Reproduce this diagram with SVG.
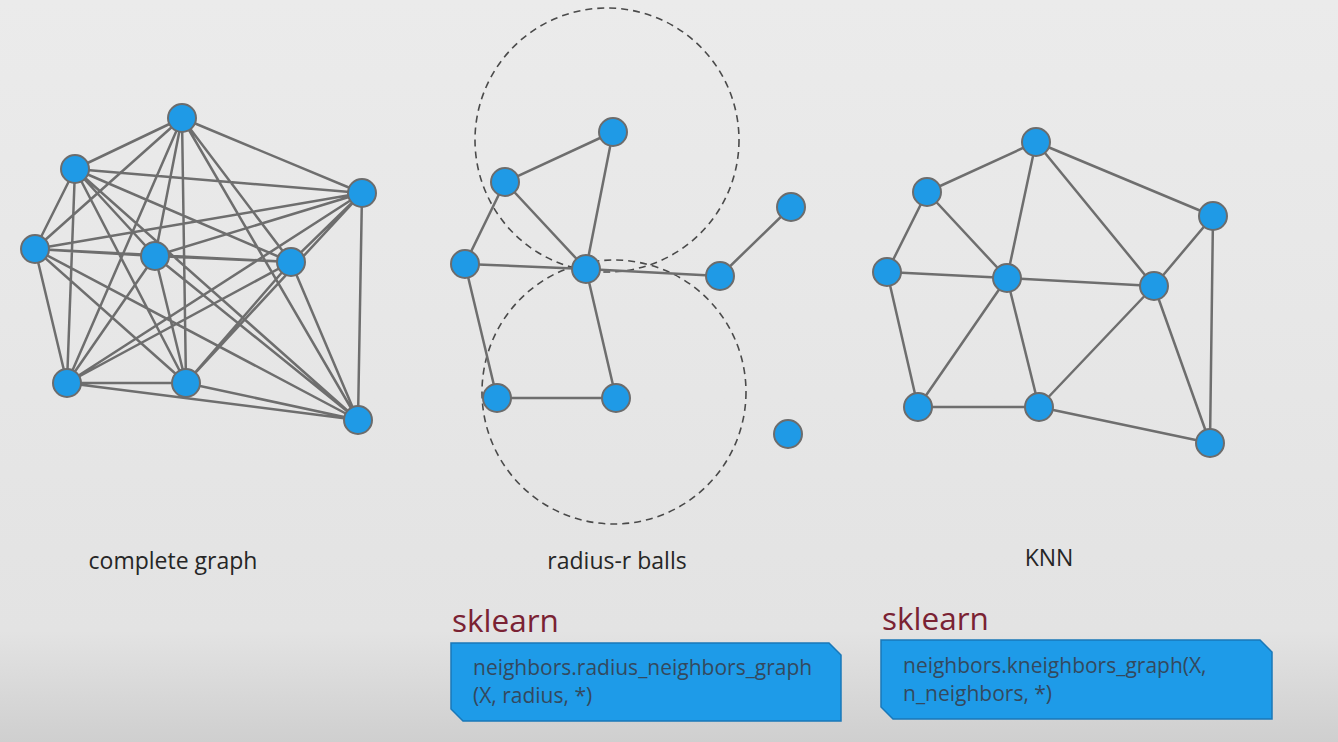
<svg xmlns="http://www.w3.org/2000/svg" width="1338" height="742" viewBox="0 0 1338 742">
<defs>
<linearGradient id="bg" x1="0" y1="0" x2="0" y2="1">
<stop offset="0" stop-color="#ebebeb"/>
<stop offset="0.85" stop-color="#e3e3e3"/>
<stop offset="1" stop-color="#cfcfcf"/>
</linearGradient>
<style>
.e{stroke:#6e6e6e;stroke-width:2.5;fill:none}
.n{fill:#1f9ae6;stroke:#6c6c6c;stroke-width:2}
.ball{fill:none;stroke:#4a4a4a;stroke-width:1.6;stroke-dasharray:7 5}
.lbl{font-family:"Open Sans","Liberation Sans",sans-serif;font-size:23px;fill:#262626}
.sk{font-family:"Open Sans","Liberation Sans",sans-serif;font-size:31.5px;fill:#7a2233}
.box{fill:#1e9be8;stroke:#1a78b8;stroke-width:1.5}
.code{font-family:"Open Sans","Liberation Sans",sans-serif;font-size:21px;fill:#34495e}
</style>
</defs>
<rect width="1338" height="742" fill="url(#bg)"/>

<g id="balls">
<circle class="ball" cx="607" cy="140" r="132"/>
<circle class="ball" cx="614" cy="392" r="132"/>
</g>

<g id="connectors">
<!-- complete graph -->
<path class="e" d="M182,118L75,169M182,118L362,193M182,118L35,249M182,118L155,256M182,118L291,262M182,118L67,383M182,118L186,383M182,118L358,420
M75,169L362,193M75,169L35,249M75,169L155,256M75,169L291,262M75,169L67,383M75,169L186,383M75,169L358,420
M362,193L35,249M362,193L155,256M362,193L291,262M362,193L67,383M362,193L186,383M362,193L358,420
M35,249L155,256M35,249L291,262M35,249L67,383M35,249L186,383M35,249L358,420
M155,256L291,262M155,256L67,383M155,256L186,383M155,256L358,420
M291,262L67,383M291,262L186,383M291,262L358,420
M67,383L186,383M67,383L358,420M186,383L358,420"/>
<!-- radius graph -->
<path class="e" d="M505,182L613,132M613,132L586,269M505,182L586,269M505,182L465,264M465,264L586,269M586,269L720,276M720,276L791,207M465,264L497,398M586,269L616,398M497,398L616,398"/>
<!-- KNN -->
<path class="e" d="M1036,142L927,192M1036,142L1007,278M1036,142L1154,286M1036,142L1213,216M927,192L887,272M927,192L1007,278M887,272L1007,278M1007,278L1154,286M887,272L918,407M1007,278L918,407M1007,278L1039,407M918,407L1039,407M1039,407L1154,286M1213,216L1154,286M1213,216L1210,443M1154,286L1210,443M1039,407L1210,443"/>
</g>

<g id="complete-graph">
<circle class="n" cx="182" cy="118" r="14"/>
<circle class="n" cx="75" cy="169" r="14"/>
<circle class="n" cx="362" cy="193" r="14"/>
<circle class="n" cx="35" cy="249" r="14"/>
<circle class="n" cx="155" cy="256" r="14"/>
<circle class="n" cx="291" cy="262" r="14"/>
<circle class="n" cx="67" cy="383" r="14"/>
<circle class="n" cx="186" cy="383" r="14"/>
<circle class="n" cx="358" cy="420" r="14"/>
<text class="lbl" x="173" y="569" text-anchor="middle">complete graph</text>
</g>

<g id="radius-graph">
<circle class="n" cx="613" cy="132" r="14"/>
<circle class="n" cx="505" cy="182" r="14"/>
<circle class="n" cx="465" cy="264" r="14"/>
<circle class="n" cx="586" cy="269" r="14"/>
<circle class="n" cx="720" cy="276" r="14"/>
<circle class="n" cx="791" cy="207" r="14"/>
<circle class="n" cx="497" cy="398" r="14"/>
<circle class="n" cx="616" cy="398" r="14"/>
<circle class="n" cx="788" cy="434" r="14"/>
<text class="lbl" x="617" y="569" text-anchor="middle">radius-r balls</text>
</g>

<g id="knn-graph">
<circle class="n" cx="1036" cy="142" r="14"/>
<circle class="n" cx="927" cy="192" r="14"/>
<circle class="n" cx="1213" cy="216" r="14"/>
<circle class="n" cx="887" cy="272" r="14"/>
<circle class="n" cx="1007" cy="278" r="14"/>
<circle class="n" cx="1154" cy="286" r="14"/>
<circle class="n" cx="918" cy="407" r="14"/>
<circle class="n" cx="1039" cy="407" r="14"/>
<circle class="n" cx="1210" cy="443" r="14"/>
<text class="lbl" x="1049" y="566" text-anchor="middle">KNN</text>
</g>

<g id="sklearn-radius">
<text class="sk" x="452" y="632">sklearn</text>
<path class="box" d="M451,643H829L841,655V721H463L451,709Z"/>
<text class="code" x="473" y="675">neighbors.radius_neighbors_graph</text>
<text class="code" x="473" y="703">(X, radius, *)</text>
</g>

<g id="sklearn-knn">
<text class="sk" x="882" y="630">sklearn</text>
<path class="box" d="M881,640H1260L1272,652V719H893L881,707Z"/>
<text class="code" x="903" y="673">neighbors.kneighbors_graph(X,</text>
<text class="code" x="903" y="701">n_neighbors, *)</text>
</g>
</svg>
